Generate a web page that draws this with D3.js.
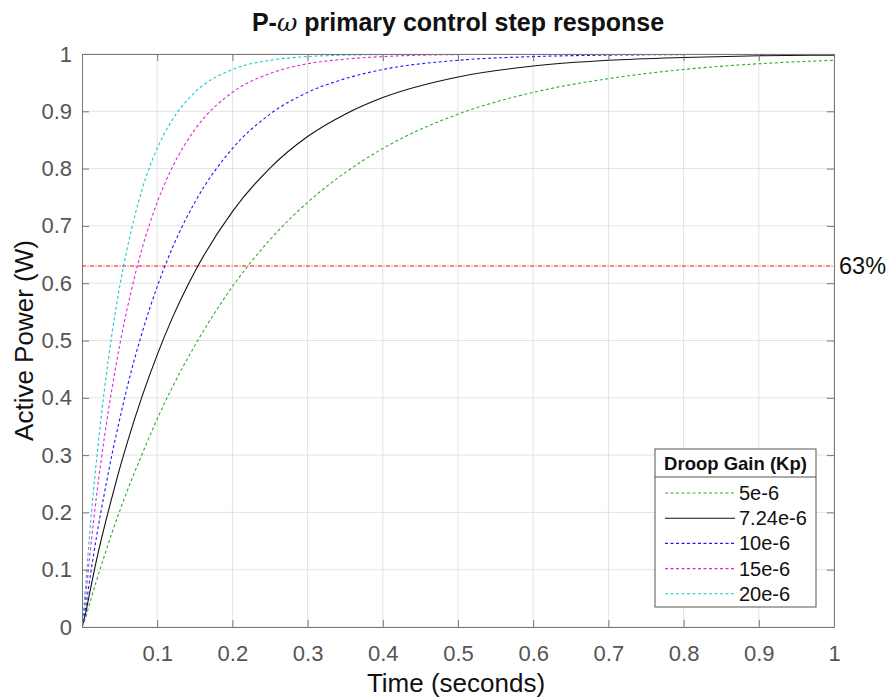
<!DOCTYPE html>
<html>
<head>
<meta charset="utf-8">
<script src="https://cdn.jsdelivr.net/npm/d3@7/dist/d3.min.js"></script>
<style>
  body { margin: 0; background: #fff; }
  svg { font-family: "Liberation Sans", Arial, Helvetica, sans-serif; }
  .tick text { fill: #555; font-size: 22px; }
</style>
</head>
<body>
<script>
// sample times (s) and the response
var times = [0, 0.005, 0.01, 0.02, 0.03, 0.04, 0.05, 0.06, 0.08, 0.1, 0.12, 0.15,
             0.2, 0.25, 0.3, 0.35, 0.4, 0.5, 0.6, 0.7, 0.8, 0.9, 1.0];

var kp5    = [0, 0.017, 0.040, 0.084, 0.125, 0.165, 0.202, 0.237, 0.302, 0.363, 0.418, 0.491,
              0.594, 0.676, 0.741, 0.793, 0.835, 0.895, 0.933, 0.957, 0.973, 0.983, 0.989];
var kp724  = [0, 0.025, 0.058, 0.121, 0.176, 0.227, 0.276, 0.321, 0.403, 0.475, 0.539, 0.620,
              0.725, 0.801, 0.856, 0.895, 0.924, 0.960, 0.979, 0.989, 0.994, 0.997, 0.998];
var kp10   = [0, 0.035, 0.080, 0.163, 0.235, 0.302, 0.362, 0.418, 0.514, 0.594, 0.661, 0.741,
              0.835, 0.895, 0.933, 0.957, 0.973, 0.989, 0.9955, 0.998, 0.999, 1.0, 1.0];
var kp15   = [0, 0.055, 0.120, 0.236, 0.333, 0.417, 0.491, 0.555, 0.661, 0.741, 0.802, 0.868,
              0.933, 0.966, 0.983, 0.991, 0.9955, 0.999, 1.0, 1.0, 1.0, 1.0, 1.0];
var kp20   = [0, 0.075, 0.160, 0.300, 0.416, 0.513, 0.593, 0.660, 0.764, 0.835, 0.885, 0.933,
              0.973, 0.989, 0.9955, 0.998, 0.999, 1.0, 1.0, 1.0, 1.0, 1.0, 1.0];

var seriesNames = ["5e-6", "7.24e-6", "10e-6", "15e-6", "20e-6"];
var seriesValues = [kp5, kp724, kp10, kp15, kp20];
var seriesColors = ["#2bb02b", "#111111", "#1a1aff", "#e81fe8", "#1cc9c9"];
var seriesDashed = [true, false, true, true, true];

var xTicks = [0.1, 0.2, 0.3, 0.4, 0.5, 0.6, 0.7, 0.8, 0.9, 1];
var yTicks = [0, 0.1, 0.2, 0.3, 0.4, 0.5, 0.6, 0.7, 0.8, 0.9, 1];
var threshold = 0.63;

var margin = {top: 54, right: 56, bottom: 71, left: 82},
    width = 890 - margin.left - margin.right,
    height = 698 - margin.top - margin.bottom;

var x = d3.scaleLinear().domain([0, 1]).range([0, width]);
var y = d3.scaleLinear().domain([0, 1]).range([height, 0]);

var svg = d3.select("body").append("svg")
    .attr("width", 890)
    .attr("height", 698);

var g = svg.append("g")
    .attr("transform", "translate(" + margin.left + "," + margin.top + ")");

// grid
g.append("g").selectAll("line").data(xTicks).enter().append("line")
    .attr("x1", d => x(d)).attr("x2", d => x(d))
    .attr("y1", 0).attr("y2", height)
    .attr("stroke", "#e3e3e3");
g.append("g").selectAll("line").data(yTicks).enter().append("line")
    .attr("x1", 0).attr("x2", width)
    .attr("y1", d => y(d)).attr("y2", d => y(d))
    .attr("stroke", "#e3e3e3");

g.append("clipPath").attr("id", "clip")
  .append("rect").attr("width", width).attr("height", height);

var line = d3.line()
    .x(function(d) { return x(d[0]); })
    .y(function(d) { return y(d[1]); })
    .curve(d3.curveMonotoneX);

var plot = g.append("g").attr("clip-path", "url(#clip)");

// reference level at 1
plot.append("path")
    .datum([[0, 1], [1, 1]])
    .attr("d", line)
    .attr("fill", "none")
    .attr("stroke", "#444")
    .attr("stroke-dasharray", "1,1");

// 63% line
plot.append("path")
    .datum([[0, threshold], [1, threshold]])
    .attr("d", line)
    .attr("fill", "none")
    .attr("stroke", "#ff0000")
    .attr("stroke-width", 1)
    .attr("stroke-dasharray", "4,1.5,1,1.5");

seriesValues.forEach(function(vals, i) {
  plot.append("path")
      .datum(times.map((t, j) => [t, vals[j]]))
      .attr("d", line)
      .attr("fill", "none")
      .attr("stroke", seriesColors[i])
      .attr("stroke-width", 1.1)
      .attr("stroke-dasharray", seriesDashed[i] ? "3,2.5" : null);
});

// axes (box with ticks on all sides)
var fmt = d3.format("");
var axB = g.append("g").attr("transform", "translate(0," + height + ")")
    .call(d3.axisBottom(x).tickValues(xTicks).tickSizeInner(-7).tickSizeOuter(0).tickPadding(18).tickFormat(fmt));
var axL = g.append("g")
    .call(d3.axisLeft(y).tickValues(yTicks).tickSizeInner(-7).tickSizeOuter(0).tickPadding(10).tickFormat(fmt));
var axT = g.append("g")
    .call(d3.axisTop(x).tickValues(xTicks).tickSizeInner(-7).tickSizeOuter(0).tickFormat(""));
var axR = g.append("g").attr("transform", "translate(" + width + ",0)")
    .call(d3.axisRight(y).tickValues(yTicks).tickSizeInner(-7).tickSizeOuter(0).tickFormat(""));
[axB, axL, axT, axR].forEach(function(a) {
  a.selectAll("path.domain").attr("stroke", "#777");
  a.selectAll(".tick line").attr("stroke", "#777");
});

// 63% label
g.append("text")
    .attr("x", width + 5)
    .attr("y", y(threshold) + 8)
    .attr("font-size", 23.5)
    .attr("fill", "#111")
    .text("63%");

// titles
svg.append("text")
    .attr("x", margin.left + width / 2)
    .attr("y", 31)
    .attr("text-anchor", "middle")
    .attr("font-size", 25)
    .attr("font-weight", "bold")
    .attr("fill", "#111")
    .html("P-<tspan font-family='DejaVu Serif' font-style='italic' font-weight='normal'>ω</tspan> primary control step response");

svg.append("text")
    .attr("x", margin.left + width / 2 - 2)
    .attr("y", 692)
    .attr("text-anchor", "middle")
    .attr("font-size", 26)
    .attr("fill", "#111")
    .text("Time (seconds)");

svg.append("text")
    .attr("transform", "translate(33," + (margin.top + height / 2) + ") rotate(-90)")
    .attr("text-anchor", "middle")
    .attr("font-size", 26)
    .attr("fill", "#111")
    .text("Active Power (W)");

// legend
var lg = svg.append("g").attr("transform", "translate(655,449)");
lg.append("rect")
    .attr("width", 161).attr("height", 158)
    .attr("fill", "#fff").attr("stroke", "#555");
lg.append("line")
    .attr("x1", 0).attr("x2", 161).attr("y1", 28).attr("y2", 28)
    .attr("stroke", "#555");
lg.append("text")
    .attr("x", 80.5).attr("y", 21)
    .attr("text-anchor", "middle")
    .attr("font-size", 18.5)
    .attr("font-weight", "bold")
    .attr("fill", "#111")
    .text("Droop Gain (Kp)");
var items = lg.selectAll(".item").data(seriesNames).enter().append("g")
    .attr("transform", (d, i) => "translate(0," + (44 + i * 25.2) + ")");
items.append("line")
    .attr("x1", 10).attr("x2", 80)
    .attr("stroke", (d, i) => seriesColors[i])
    .attr("stroke-width", 1.1)
    .attr("stroke-dasharray", (d, i) => seriesDashed[i] ? "3,2.5" : null);
items.append("text")
    .attr("x", 84).attr("y", 7)
    .attr("font-size", 20)
    .attr("fill", "#111")
    .text(d => d);
</script>
</body>
</html>
